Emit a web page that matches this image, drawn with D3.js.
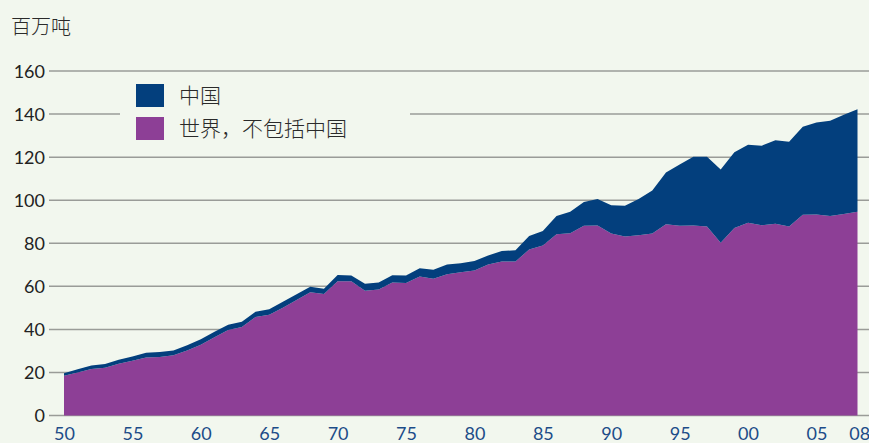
<!DOCTYPE html>
<html>
<head>
<meta charset="utf-8">
<script src="https://cdn.jsdelivr.net/npm/d3@7"></script>
<style>
  html, body { margin: 0; padding: 0; background: #f2f7ee; }
  svg { display: block; }
  text { font-family: "Noto Sans CJK SC", "Noto Sans", sans-serif; }
</style>
</head>
<body>
<svg id="chart" width="869" height="443"></svg>
<script>
// years 1950..2008
const YEARS = d3.range(1950, 2009);

// world excluding China, million tonnes
const WORLD_EX_CHINA = [
  18.5, 20.0, 21.6, 22.2, 24.0, 25.4, 26.9, 27.2, 28.0, 30.2,
  32.9, 36.3, 39.7, 41.1, 45.7, 46.8, 50.0, 53.6, 57.2, 56.4,
  62.3, 62.4, 57.9, 58.5, 61.8, 61.5, 64.6, 63.5, 65.6, 66.5,
  67.4, 70.1, 71.5, 71.5, 77.1, 78.9, 84.2, 84.7, 88.1, 88.2,
  84.5, 83.1, 83.7, 84.5, 88.8, 88.1, 88.2, 87.8, 80.2, 87.1,
  89.5, 88.4, 89.1, 87.8, 93.2, 93.3, 92.6, 93.6, 94.6
];

// total (world incl. China), read from top edge
const TOTAL = [
  19.6, 21.5, 23.2, 23.9, 25.9, 27.4, 29.1, 29.5, 30.2, 32.6,
  35.4, 38.9, 42.1, 43.5, 48.2, 49.4, 52.8, 56.3, 59.8, 58.9,
  65.2, 65.0, 61.2, 61.8, 65.1, 65.0, 68.4, 67.7, 70.1, 70.7,
  71.8, 74.3, 76.4, 76.7, 83.4, 85.7, 92.6, 94.6, 99.2, 100.5,
  97.7, 97.4, 100.5, 104.5, 112.9, 116.6, 120.2, 120.2, 114.3, 122.3,
  125.7, 125.3, 127.8, 127.1, 134.1, 136.1, 136.9, 139.7, 142.2
];

const CHINA = TOTAL.map((t, i) => +(t - WORLD_EX_CHINA[i]).toFixed(1));

const Y_TICKS = [0, 20, 40, 60, 80, 100, 120, 140, 160];
const X_TICKS = [1950, 1955, 1960, 1965, 1970, 1975, 1980, 1985, 1990, 1995, 2000, 2005, 2008];
const X_LABELS = ['50', '55', '60', '65', '70', '75', '80', '85', '90', '95', '00', '05', '08'];

const SERIES_NAMES = ['中国', '世界，不包括中国'];
const COLORS = { china: '#033f7d', world: '#8d3f96' };

const svg = d3.select('#chart');
const W = 869;

const xScale = d3.scaleLinear().domain([1950, 2008]).range([64, 857.5]);
const yScale = d3.scaleLinear().domain([0, 160]).range([415.5, 71]);

// grid lines
svg.append('g')
  .selectAll('line')
  .data(Y_TICKS)
  .enter()
  .append('line')
  .attr('x1', 49)
  .attr('x2', W)
  .attr('y1', d => yScale(d))
  .attr('y2', d => yScale(d))
  .attr('stroke', '#9a9c98')
  .attr('stroke-width', 1.5);

// stacked areas
const table = YEARS.map((y, i) => ({ year: y, world: WORLD_EX_CHINA[i], china: CHINA[i] }));
const stack = d3.stack().keys(['world', 'china']);
const layers = stack(table);

const area = d3.area()
  .x(d => xScale(d.data.year))
  .y0(d => yScale(d[0]))
  .y1(d => yScale(d[1]));

svg.append('g')
  .selectAll('path')
  .data(layers)
  .enter()
  .append('path')
  .attr('d', area)
  .attr('fill', d => COLORS[d.key]);

// y axis labels
const yAxis = d3.axisLeft(yScale).tickValues(Y_TICKS).tickSize(0).tickPadding(0);
const yg = svg.append('g').attr('transform', 'translate(45,0)').call(yAxis);
yg.select('.domain').remove();
yg.selectAll('text')
  .attr('font-size', 18)
  .attr('fill', '#222')
  .attr('dy', '0.36em')
  .style('font-family', '"Lato", "Noto Sans", sans-serif');

// x axis labels
const xAxis = d3.axisBottom(xScale).tickValues(X_TICKS)
  .tickFormat((d, i) => X_LABELS[i]).tickSize(0).tickPadding(0);
const xg = svg.append('g').attr('transform', 'translate(0,427)').call(xAxis);
xg.select('.domain').remove();
xg.selectAll('text')
  .attr('font-size', 18)
  .attr('fill', '#1c4c88')
  .attr('dy', '0.7em')
  .style('font-family', '"Lato", "Noto Sans", sans-serif');
xg.selectAll('text').filter((d) => d === 2008).attr('dx', '0.1em');

// unit title
svg.append('text')
  .attr('x', 11)
  .attr('y', 34)
  .attr('font-size', 20)
  .attr('font-weight', 300)
  .attr('fill', '#2a2a2a')
  .text('百万吨');

// legend
const legend = svg.append('g');
legend.append('rect')
  .attr('x', 120).attr('y', 76)
  .attr('width', 290).attr('height', 72)
  .attr('fill', '#f2f7ee');

const legendColors = [COLORS.china, COLORS.world];
SERIES_NAMES.forEach((name, i) => {
  legend.append('rect')
    .attr('x', 136)
    .attr('y', 84 + i * 33)
    .attr('width', 28)
    .attr('height', 23)
    .attr('fill', legendColors[i]);
  legend.append('text')
    .attr('x', 179)
    .attr('y', 96 + i * 33)
    .attr('dy', '0.35em')
    .attr('font-size', 21)
    .attr('font-weight', 300)
    .attr('fill', '#2a2a2a')
    .text(name);
});
</script>
</body>
</html>
